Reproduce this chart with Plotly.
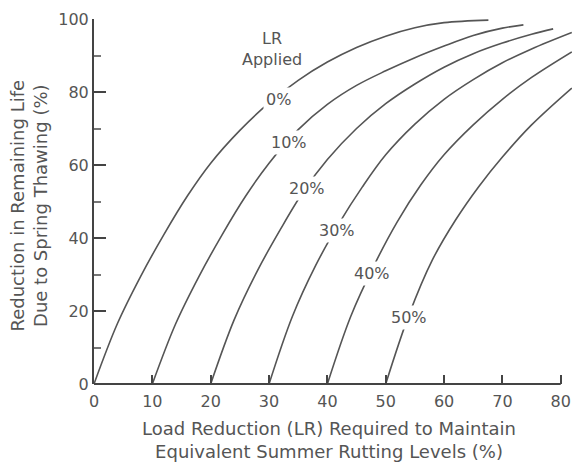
import plotly.graph_objects as go

# LR applied (%) for each curve
lr_applied = [0, 10, 20, 30, 40, 50]
curve_labels = ["0%", "10%", "20%", "30%", "40%", "50%"]

# Load reduction required (%) -> reduction in remaining life (%)
x_lr0 = [0, 4, 8, 12, 16, 20, 25, 30, 35, 40, 45, 50, 55, 60, 67.6]
y_lr0 = [0, 16.5, 29.5, 41, 51.5, 60.5, 69.5, 77, 83.2, 88.2, 92.2, 95.3, 97.6, 99, 99.7]

x_lr10 = [10, 14, 18, 22, 26, 30, 35, 40, 45, 50, 55, 60, 65, 70, 73.6]
y_lr10 = [0, 16.5, 29.5, 41, 51.5, 60.5, 69.7, 76.6, 81.8, 85.8, 89.4, 92.6, 95.5, 97.5, 98.4]

x_lr20 = [20, 24, 28, 32, 36, 40, 45, 50, 55, 60, 65, 70, 75, 78.7]
y_lr20 = [0, 17.5, 31, 42.5, 53, 61.5, 70, 76.8, 82.2, 86.8, 90.5, 93.4, 95.8, 97.3]

x_lr30 = [30, 34, 38, 42, 46, 50, 55, 60, 65, 70, 75, 81.9]
y_lr30 = [0, 18.5, 32.5, 44, 54, 62.8, 71.2, 78, 83.4, 88, 91.8, 96.3]

x_lr40 = [40, 44, 48, 52, 56, 60, 65, 70, 75, 81.9]
y_lr40 = [0, 18.5, 32.5, 44.5, 54.5, 62.8, 71, 78, 84, 91]

x_lr50 = [50, 54, 58, 62, 66, 70, 75, 81.9]
y_lr50 = [0, 19, 34, 45, 54.2, 62.2, 71, 81.1]

# label positions for each curve (data coordinates)
label_x = [31.6, 33.4, 36.5, 41.6, 47.6, 54.0]
label_y = [77.9, 66.2, 53.5, 42.0, 30.3, 18.3]

x_ticks = [0, 10, 20, 30, 40, 50, 60, 70, 80]
y_ticks = [0, 20, 40, 60, 80, 100]

curves_x = [x_lr0, x_lr10, x_lr20, x_lr30, x_lr40, x_lr50]
curves_y = [y_lr0, y_lr10, y_lr20, y_lr30, y_lr40, y_lr50]

INK = "#555555"
FONT = "DejaVu Sans"

fig = go.Figure()
for lr, xs, ys in zip(lr_applied, curves_x, curves_y):
    fig.add_trace(go.Scatter(
        x=xs, y=ys, mode="lines", name=f"{lr}%",
        line=dict(color="#555555", width=1.6, shape="spline", smoothing=1.0),
        showlegend=False, hoverinfo="skip"))

annotations = []
for lab, lx, ly in zip(curve_labels, label_x, label_y):
    annotations.append(dict(x=lx, y=ly, xref="x", yref="y", text=lab,
                            showarrow=False, bgcolor="white", borderpad=2,
                            font=dict(family=FONT, size=16, color=INK)))
annotations.append(dict(x=30.5, y=91.8, xref="x", yref="y", text="LR<br>Applied",
                        showarrow=False, align="center",
                        font=dict(family=FONT, size=16, color=INK)))
# axis titles
annotations.append(dict(x=(329 - 94) / 478, y=(384 - 440) / 365,
                        xref="paper", yref="paper",
                        text="Load Reduction (LR) Required to Maintain<br>Equivalent Summer Rutting Levels (%)",
                        showarrow=False, align="center", xanchor="center", yanchor="middle",
                        font=dict(family=FONT, size=18, color=INK)))
annotations.append(dict(x=(28.5 - 94) / 478, y=(384 - 206) / 365,
                        xref="paper", yref="paper",
                        text="Reduction in Remaining Life<br>Due to Spring Thawing (%)",
                        showarrow=False, align="center", textangle=-90,
                        xanchor="center", yanchor="middle",
                        font=dict(family=FONT, size=18, color=INK)))

fig.update_layout(
    width=572, height=462,
    margin=dict(l=94, r=0, t=19, b=78),
    paper_bgcolor="white", plot_bgcolor="white",
    annotations=annotations,
    shapes=[dict(type="line", xref="x", yref="paper", x0=0, x1=80, y0=0, y1=0,
                 line=dict(color="#444444", width=2))],
)
fig.update_xaxes(range=[0, 81.93], tickvals=x_ticks, ticktext=[str(v) for v in x_ticks],
                 showline=False, showgrid=False, zeroline=False,
                 ticks="inside", ticklen=9, tickwidth=2, tickcolor="#444444",
                 ticklabelstandoff=6,
                 tickfont=dict(family=FONT, size=16, color=INK))
fig.update_yaxes(range=[0, 100], tickvals=y_ticks, ticktext=[str(v) for v in y_ticks],
                 showline=True, linecolor="#444444", linewidth=2,
                 showgrid=False, zeroline=False,
                 ticks="inside", ticklen=12, tickwidth=2, tickcolor="#444444",
                 minor=dict(ticks="inside", ticklen=7, tickwidth=1.5, dtick=10, tick0=0,
                            tickcolor="#777777", showgrid=False),
                 tickfont=dict(family=FONT, size=16, color=INK))

fig.write_html("out.html")
